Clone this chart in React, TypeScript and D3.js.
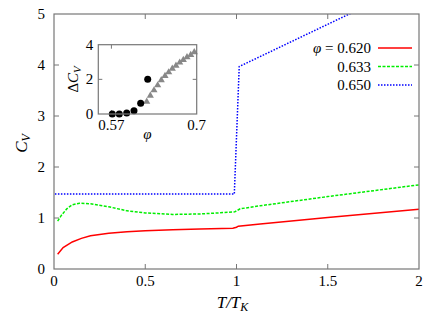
import React from "react";
import * as d3 from "d3";

const xTicks = [0, 0.5, 1, 1.5, 2];
const yTicks = [0, 1, 2, 3, 4, 5];
const xTickLabels = ["0", "0.5", "1", "1.5", "2"];

const red620: [number, number][] = [
  [0.02, 0.29], [0.05, 0.42], [0.1, 0.53], [0.15, 0.6], [0.2, 0.65], [0.3, 0.7],
  [0.4, 0.73], [0.5, 0.75], [0.65, 0.77], [0.8, 0.785], [0.98, 0.8], [1.0, 0.82],
  [1.01, 0.84], [1.13, 0.88], [1.5, 1.01], [2.0, 1.17],
];
const green633: [number, number][] = [
  [0.02, 0.94], [0.04, 1.05], [0.07, 1.18], [0.1, 1.26], [0.14, 1.29], [0.2, 1.28],
  [0.3, 1.22], [0.4, 1.14], [0.5, 1.1], [0.65, 1.07], [0.8, 1.08], [0.9, 1.1],
  [0.99, 1.12], [1.02, 1.18], [1.13, 1.24], [1.5, 1.42], [2.0, 1.65],
];
const blue650: [number, number][] = [
  [0.005, 1.47], [0.988, 1.47], [1.015, 3.97], [1.618, 5.0], [2.0, 5.65],
];

const legendLabels = ["0.620", "0.633", "0.650"];

const insetCircles: [number, number][] = [
  [0.5713, 0.0], [0.582, 0.0], [0.5933, 0.06], [0.6044, 0.19], [0.6146, 0.62], [0.6253, 2.0],
];
const insetTriangles: [number, number][] = [
  [0.6238, 0.71], [0.6293, 1.06], [0.6349, 1.37], [0.6405, 1.66], [0.646, 1.95],
  [0.6517, 2.2], [0.6573, 2.41], [0.6628, 2.62], [0.6684, 2.79], [0.6741, 2.97],
  [0.6796, 3.12], [0.6852, 3.28], [0.6909, 3.41], [0.6963, 3.57],
];
const insetXTicks = [0.57, 0.7];
const insetYTicks = [0, 2, 4];

function Txt(props: any) {
  return <text style={{ fontFamily: "'Liberation Serif', 'DejaVu Serif', serif" }} {...props} />;
}

export default function App() {
  const W = 436, H = 317;
  const L = 54, R = 419, T = 14, B = 269;
  const x = d3.scaleLinear().domain([0, 2]).range([L, R]);
  const y = d3.scaleLinear().domain([0, 5]).range([B, T]);
  const line = d3.line<[number, number]>().x((d) => x(d[0])).y((d) => y(d[1]));

  const iL = 98.3, iR = 196.7, iT = 44.7, iB = 114;
  const ix = d3.scaleLinear().domain([0.55, 0.7]).range([iL, iR]);
  const iy = d3.scaleLinear().domain([0, 4]).range([iB, iT]);

  const series = [
    { data: red620, color: "#ff0000", dash: "none" },
    { data: green633, color: "#00ee00", dash: "3,1.5" },
    { data: blue650, color: "#0000ff", dash: "1.5,1.5" },
  ];
  const axisColor = "#777";
  const tri = d3.symbol().type(d3.symbolTriangle).size(22)();

  return (
    <svg width={W} height={H} style={{ position: "absolute", left: 0, top: 0 }}>
      <defs>
        <clipPath id="plotclip">
          <rect x={L} y={T} width={R - L} height={B - T} />
        </clipPath>
      </defs>
      <rect x={0} y={0} width={W} height={H} fill="white" />
      {xTicks.slice(1, -1).map((t) => (
        <g key={"xt" + t}>
          <line x1={x(t)} x2={x(t)} y1={B} y2={B - 5} stroke={axisColor} />
          <line x1={x(t)} x2={x(t)} y1={T} y2={T + 5} stroke={axisColor} />
        </g>
      ))}
      {yTicks.slice(1, -1).map((t) => (
        <g key={"yt" + t}>
          <line x1={L} x2={L + 5} y1={y(t)} y2={y(t)} stroke={axisColor} />
          <line x1={R} x2={R - 5} y1={y(t)} y2={y(t)} stroke={axisColor} />
        </g>
      ))}
      {xTicks.map((t, i) => (
        <Txt key={"xl" + t} x={x(t)} y={B + 17} textAnchor="middle" fontSize={15}>
          {xTickLabels[i]}
        </Txt>
      ))}
      {yTicks.map((t) => (
        <Txt key={"yl" + t} x={L - 9} y={y(t) + 5} textAnchor="end" fontSize={15}>
          {t}
        </Txt>
      ))}
      <g clipPath="url(#plotclip)">
        {series.map((s, i) => (
          <path key={i} d={line(s.data) || ""} fill="none" stroke={s.color} strokeWidth={1.5}
            strokeDasharray={s.dash} />
        ))}
      </g>
      <rect x={L} y={T} width={R - L} height={B - T} fill="none" stroke={axisColor} strokeWidth={1.2} />
      <Txt x={(L + R) / 2 - 4} y={308} textAnchor="middle" fontSize={17} fontStyle="italic">
        T/T<tspan fontSize={12} dy={3}>K</tspan>
      </Txt>
      <Txt transform={`translate(27,${(T + B) / 2 + 2}) rotate(-90)`} textAnchor="middle" fontSize={17} fontStyle="italic">
        C<tspan fontSize={12} dy={3}>V</tspan>
      </Txt>
      {series.map((s, i) => {
        const ly = 48 + i * 18.5;
        return (
          <g key={"lg" + i}>
            <Txt x={371} y={ly + 5} textAnchor="end" fontSize={15}>
              {i === 0 ? (
                <>
                  <tspan fontStyle="italic">φ</tspan> = {legendLabels[i]}
                </>
              ) : legendLabels[i]}
            </Txt>
            <line x1={378} x2={412} y1={ly} y2={ly} stroke={s.color} strokeWidth={1.5} strokeDasharray={s.dash} />
          </g>
        );
      })}
      <rect x={iL} y={iT} width={iR - iL} height={iB - iT} fill="white" />
      {insetXTicks.slice(0, 1).map((t) => (
        <g key={"ixt" + t}>
          <line x1={ix(t)} x2={ix(t)} y1={iB} y2={iB - 4} stroke={axisColor} />
          <line x1={ix(t)} x2={ix(t)} y1={iT} y2={iT + 4} stroke={axisColor} />
        </g>
      ))}
      {insetYTicks.slice(1, -1).map((t) => (
        <g key={"iyt" + t}>
          <line x1={iL} x2={iL + 4} y1={iy(t)} y2={iy(t)} stroke={axisColor} />
          <line x1={iR} x2={iR - 4} y1={iy(t)} y2={iy(t)} stroke={axisColor} />
        </g>
      ))}
      {insetXTicks.map((t) => (
        <Txt key={"ixl" + t} x={ix(t)} y={iB + 16} textAnchor="middle" fontSize={15}>
          {t}
        </Txt>
      ))}
      {insetYTicks.map((t) => (
        <Txt key={"iyl" + t} x={iL - 5} y={iy(t) + 5} textAnchor="end" fontSize={15}>
          {t}
        </Txt>
      ))}
      {insetTriangles.map((d, i) => (
        <path key={"tr" + i} d={tri || ""} transform={`translate(${ix(d[0])},${iy(d[1])})`} fill="#888" />
      ))}
      {insetCircles.map((d, i) => (
        <circle key={"c" + i} cx={ix(d[0])} cy={iy(d[1])} r={3.5} fill="black" />
      ))}
      <rect x={iL} y={iT} width={iR - iL} height={iB - iT} fill="none" stroke={axisColor} strokeWidth={1.2} />
      <Txt x={(iL + iR) / 2} y={iB + 25} textAnchor="middle" fontSize={15} fontStyle="italic">φ</Txt>
      <Txt transform={`translate(78,${(iT + iB) / 2}) rotate(-90)`} textAnchor="middle" fontSize={15}>
        Δ<tspan fontStyle="italic">C</tspan><tspan fontSize={11} dy={3} fontStyle="italic">V</tspan>
      </Txt>
    </svg>
  );
}
